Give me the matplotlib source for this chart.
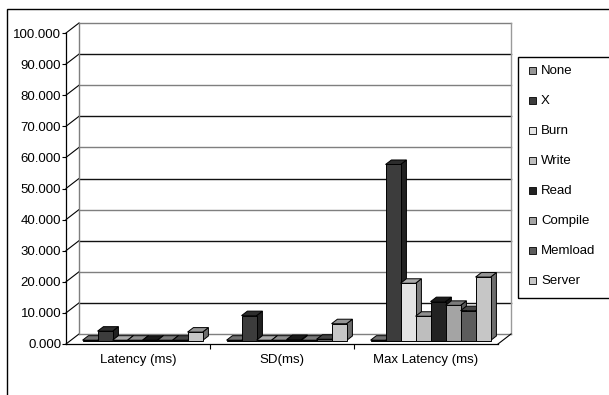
import matplotlib.pyplot as plt
from matplotlib.patches import Polygon, Rectangle
import numpy as np

plt.rcParams['font.family'] = ['Liberation Sans', 'DejaVu Sans']

categories = ['Latency (ms)', 'SD(ms)', 'Max Latency (ms)']
series = ['None', 'X', 'Burn', 'Write', 'Read', 'Compile', 'Memload', 'Server']
none_vals = [0.1, 0.1, 0.1]
x_vals = [3.0, 8.0, 56.6]
burn_vals = [0.1, 0.1, 18.4]
write_vals = [0.1, 0.1, 7.8]
read_vals = [0.1, 0.3, 12.5]
compile_vals = [0.1, 0.1, 11.3]
memload_vals = [0.1, 0.4, 9.6]
server_vals = [2.7, 5.4, 20.4]
values = [none_vals, x_vals, burn_vals, write_vals, read_vals,
          compile_vals, memload_vals, server_vals]
colors = ['#969696', '#3c3c3c', '#e4e4e4', '#bebebe', '#222222',
          '#a4a4a4', '#5c5c5c', '#c6c6c6']
yticks = np.arange(0, 101, 10)

W, H = 609, 395
fig = plt.figure(figsize=(W / 100, H / 100), dpi=100)
ax = fig.add_axes([66 / W, 1 - 344 / H, 432 / W, 311 / H])
ax.set_xlim(0, 3)
ax.set_ylim(0, 100)

# depth of the 3d box in data units
px_x = 3 / 432
px_y = 100 / 311
wdx, wdy = 13 * px_x, 10 * px_y

def shade(c, f):
    r, g, b = [int(c[i:i + 2], 16) / 255 for i in (1, 3, 5)]
    return (r * f, g * f, b * f)

# back wall and floor
for v in yticks:
    col = '#7f7f7f' if v % 20 == 0 else '#111111'
    ax.plot([wdx, 3 + wdx], [v + wdy, v + wdy], color=col, lw=1, clip_on=False, zorder=1)
    ax.plot([0, wdx], [v, v + wdy], color='black', lw=0.8, clip_on=False, zorder=1)
ax.plot([wdx, wdx], [wdy, 100 + wdy], color='#7f7f7f', lw=1, clip_on=False, zorder=1)
ax.plot([3 + wdx, 3 + wdx], [wdy, 100 + wdy], color='#9a9a9a', lw=1, clip_on=False, zorder=1)
ax.plot([3, 3 + wdx], [0, wdy], color='black', lw=0.8, clip_on=False, zorder=1)

# bars
bw = 1 / 9.6
gap = (1 - 8 * bw) / 2
f0, f1 = 0.35, 0.8
z = 3
for c in range(len(categories)):
    for i, vals in enumerate(values):
        v = vals[c]
        x0 = c + gap + i * bw + f0 * wdx
        y0 = f0 * wdy
        dx, dy = (f1 - f0) * wdx, (f1 - f0) * wdy
        col = colors[i]
        side = Polygon([(x0 + bw, y0), (x0 + bw + dx, y0 + dy),
                        (x0 + bw + dx, y0 + v + dy), (x0 + bw, y0 + v)],
                       closed=True, fc=shade(col, 0.55), ec='black', lw=0.7,
                       clip_on=False, zorder=z)
        top = Polygon([(x0, y0 + v), (x0 + bw, y0 + v),
                       (x0 + bw + dx, y0 + v + dy), (x0 + dx, y0 + v + dy)],
                      closed=True, fc=shade(col, 0.75), ec='black', lw=0.7,
                      clip_on=False, zorder=z)
        front = Rectangle((x0, y0), bw, v, fc=col, ec='black', lw=0.7,
                          clip_on=False, zorder=z)
        ax.add_patch(side)
        ax.add_patch(top)
        ax.add_patch(front)
        z += 1

# axes
for s in ['top', 'right']:
    ax.spines[s].set_visible(False)
ax.spines['left'].set_linewidth(0.9)
ax.spines['bottom'].set_linewidth(0.9)
ax.set_yticks(yticks)
ax.set_yticklabels(['%.3f' % v for v in yticks], fontsize=9.5)
ax.tick_params(axis='y', direction='out', length=3, width=0.8, pad=0.5)
ax.set_xticks([1, 2])
ax.set_xticklabels(['', ''])
ax.tick_params(axis='x', which='major', direction='out', length=3.6, width=0.8)
ax.set_xticks([0.5, 1.5, 2.5], minor=True)
ax.set_xticklabels(categories, minor=True, fontsize=9.5)
ax.tick_params(axis='x', which='minor', length=0, pad=7)
ax.patch.set_alpha(0)

# outer frame
fig.patches.append(Rectangle((7 / W, -0.1), 1.2, 1 - 9 / H + 0.1, transform=fig.transFigure,
                             fill=False, ec='black', lw=1, zorder=0))

# legend
fig.patches.append(Rectangle((518 / W, 1 - 298 / H), 0.5, (298 - 57) / H,
                             transform=fig.transFigure, fill=False, ec='black', lw=1))
for i, name in enumerate(series):
    yc = 70.7 + i * 30
    fig.patches.append(Rectangle((529 / W, 1 - (yc + 3.5) / H), 7 / W, 7 / H,
                                 transform=fig.transFigure, fc=colors[i], ec='black', lw=0.6))
    fig.text(541 / W, 1 - yc / H, name, fontsize=9.5, va='center', ha='left')

fig.savefig('out.png', dpi=100)
